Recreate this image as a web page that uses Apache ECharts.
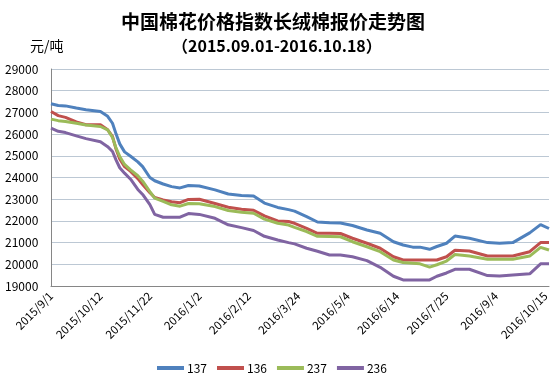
<!DOCTYPE html>
<html>
<head>
<meta charset="utf-8">
<script src="https://cdn.jsdelivr.net/npm/echarts@6/dist/echarts.min.js"></script>
<style>
html,body{margin:0;padding:0;background:#fff;}
#main{width:560px;height:384px;}
</style>
</head>
<body>
<div id="main"></div>
<script>
var titleText = '中国棉花价格指数长绒棉报价走势图';
var subTitleText = '（2015.09.01-2016.10.18）';
var unitText = '元/吨';
var seriesNames = ['137', '136', '237', '236'];
var startDate = '2015-09-01';
var endDate = '2016-10-18';
var labelStepDays = 41;

var dates = ['2015-09-01','2015-09-07','2015-09-13','2015-09-22','2015-09-30','2015-10-12','2015-10-18','2015-10-22','2015-10-25','2015-10-28','2015-11-01','2015-11-06','2015-11-12','2015-11-16','2015-11-22','2015-11-26','2015-12-03','2015-12-10','2015-12-17','2015-12-24','2016-01-02','2016-01-15','2016-01-26','2016-02-06','2016-02-16','2016-02-25','2016-03-07','2016-03-16','2016-03-21','2016-03-31','2016-04-09','2016-04-19','2016-04-28','2016-05-08','2016-05-20','2016-05-31','2016-06-11','2016-06-19','2016-06-27','2016-07-03','2016-07-11','2016-07-17','2016-07-25','2016-08-01','2016-08-13','2016-08-28','2016-09-07','2016-09-18','2016-10-02','2016-10-11','2016-10-18'];

var s137 = [27400,27320,27300,27200,27120,27040,26820,26500,26000,25550,25180,24980,24720,24500,24000,23850,23700,23580,23520,23630,23610,23430,23240,23170,23150,22820,22620,22520,22450,22200,21950,21920,21900,21790,21580,21430,21040,20890,20790,20790,20690,20820,20970,21300,21200,21000,20970,21000,21450,21830,21650];
var s136 = [27040,26850,26770,26560,26430,26430,26200,25890,25300,24850,24500,24280,23950,23680,23300,23080,22970,22880,22840,22990,23000,22800,22630,22540,22490,22230,22000,21970,21890,21660,21430,21430,21420,21200,20970,20740,20350,20200,20200,20200,20200,20200,20350,20650,20610,20380,20380,20380,20580,21000,21000];
var s237 = [26690,26620,26580,26500,26420,26350,26200,25850,25350,24970,24600,24350,24080,23830,23350,23050,22900,22740,22680,22800,22790,22660,22480,22400,22350,22080,21890,21810,21700,21510,21290,21280,21270,21040,20810,20580,20200,20080,20050,20020,19870,19980,20150,20450,20380,20230,20230,20230,20380,20780,20660];
var s236 = [26270,26130,26070,25920,25790,25650,25420,25200,24800,24450,24200,23920,23450,23220,22750,22300,22170,22170,22170,22340,22300,22120,21820,21690,21560,21290,21120,21000,20940,20740,20600,20430,20430,20350,20170,19860,19450,19280,19280,19280,19280,19450,19600,19770,19770,19480,19460,19510,19560,20020,20020];

var colors = ['#4F81BD', '#C0504D', '#9BBB59', '#8064A2'];
var DAY = 86400000;
function toUTC(s){ var p = s.split('-'); return Date.UTC(+p[0], +p[1]-1, +p[2]); }
var t0 = toUTC(startDate);
var maxDay = Math.round((toUTC(endDate) - t0) / DAY);
function dayOf(s){ return Math.round((toUTC(s) - t0) / DAY); }
function pairs(vals){ return dates.map(function(d, i){ return [dayOf(d), vals[i]]; }); }
function fmtDay(v){
  if (v % labelStepDays !== 0) return '';
  var d = new Date(t0 + v * DAY);
  return d.getUTCFullYear() + '/' + (d.getUTCMonth()+1) + '/' + d.getUTCDate();
}

var allVals = [s137, s136, s237, s236];
var chart = echarts.init(document.getElementById('main'), null, {renderer:'canvas'});
var font = '"Noto Sans CJK SC", "Noto Sans", sans-serif';
chart.setOption({
  animation: false,
  backgroundColor: '#ffffff',
  color: colors,
  textStyle: { fontFamily: font },
  graphic: [
    { type:'text', left: 121, top: 12, style:{ text: titleText, fontSize: 19, fontWeight: 'bold', fill: '#000', fontFamily: font } },
    { type:'text', left: 172, top: 38, style:{ text: subTitleText, fontSize: 16, fontWeight: 'bold', fill: '#000', fontFamily: font } },
    { type:'text', left: 30, top: 39, style:{ text: unitText, fontSize: 14, fill: '#000', fontFamily: font } }
  ],
  grid: { left: 51, right: 11, top: 69, bottom: 98, containLabel: false },
  xAxis: {
    type: 'value', min: 0, max: maxDay, interval: labelStepDays,
    axisLine: { show: true, lineStyle: { color: '#868686', width: 1 } },
    axisTick: { show: false },
    splitLine: { show: false },
    axisLabel: { rotate: 45, fontSize: 11.5, color: '#000', margin: 8, formatter: fmtDay, showMaxLabel: false, hideOverlap: false }
  },
  yAxis: {
    type: 'value', min: 19000, max: 29000, interval: 1000,
    axisLine: { show: true, lineStyle: { color: '#868686', width: 1 } },
    axisTick: { show: false },
    splitLine: { show: true, lineStyle: { color: '#BCC8D4', width: 1 } },
    axisLabel: { fontSize: 12, color: '#000', align: 'left', margin: 46, formatter: function(v){ return String(v); } }
  },
  legend: {
    bottom: 5, left: 152,
    icon: 'rect',
    itemWidth: 27, itemHeight: 4, itemGap: 10,
    textStyle: { fontSize: 12, color: '#000', padding: [0,0,0,-2] },
    data: seriesNames
  },
  series: seriesNames.map(function(n, i){
    return { name: n, type: 'line', symbol: 'none', data: pairs(allVals[i]),
      lineStyle: { width: 3, color: colors[i] }, itemStyle: { color: colors[i] } };
  })
});
</script>
</body>
</html>
